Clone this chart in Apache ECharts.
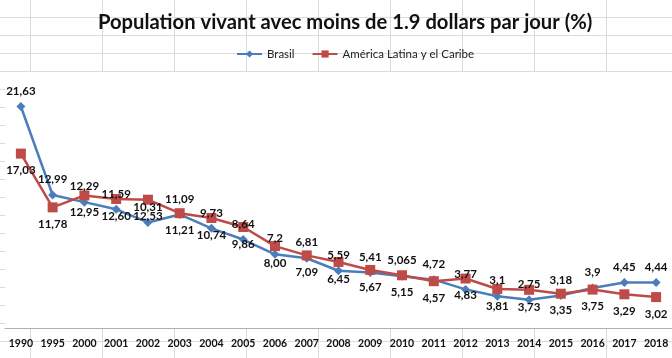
<!DOCTYPE html>
<html>
<head>
<meta charset="utf-8">
<script src="https://cdn.jsdelivr.net/npm/echarts@6/dist/echarts.min.js"></script>
<style>
html,body{margin:0;padding:0;}
body{
  width:672px;height:358px;background-color:#fff;
  background-image:linear-gradient(to right,#dcdcdc 1px,transparent 1px),linear-gradient(to bottom,#dcdcdc 1px,transparent 1px);
  background-size:72px 18px;background-position:30px 17px;
}
#chart{width:672px;height:358px;}
</style>
</head>
<body>
<div id="chart"></div>
<script>
const years = ['1990','1995','2000','2001','2002','2003','2004','2005','2006','2007','2008','2009','2010','2011','2012','2013','2014','2015','2016','2017','2018'];
const brasilLabels = ['21,63','12,99','12,29','11,59','10,31','11,09','9,73','8,64','7,2','6,81','5,59','5,41','5,065','4,72','3,77','3,1','2,75','3,18','3,9','4,45','4,44'];
const latamLabels = ['17,03','11,78','12,95','12,60','12,53','11,21','10,74','9,86','8,00','7,09','6,45','5,67','5,15','4,57','4,83','3,81','3,73','3,35','3,75','3,29','3,02'];
const brasil = [21.63,12.99,12.29,11.59,10.31,11.09,9.73,8.64,7.2,6.81,5.59,5.41,5.065,4.72,3.77,3.1,2.75,3.18,3.9,4.45,4.44];
const latam = [17.03,11.78,12.95,12.60,12.53,11.21,10.74,9.86,8.00,7.09,6.45,5.67,5.15,4.57,4.83,3.81,3.73,3.35,3.75,3.29,3.02];

const chart = echarts.init(document.getElementById('chart'));
const labelFont = {fontFamily:'Lato',fontWeight:'bold',fontSize:11.5,color:'#111'};
chart.setOption({
  backgroundColor:'transparent',
  animation:false,
  title:{
    text:'Population vivant avec moins de 1.9 dollars par jour (%)',
    left:93, top:7,
    textStyle:{fontFamily:'Lato',fontWeight:'bold',fontSize:20.2,color:'#111'}
  },
  legend:{
    left:231, top:43,
    itemWidth:25, itemHeight:9, itemGap:17,
    textStyle:{fontFamily:'Lato',fontSize:11.5,color:'#222'},
    data:['Brasil','América Latina y el Caribe']
  },
  grid:{left:5,right:0,top:72,bottom:30,show:true,backgroundColor:'#fff',borderWidth:0},
  xAxis:{
    type:'category',data:years,boundaryGap:true,
    axisLine:{lineStyle:{color:'#b0b0b0',width:1}},
    axisTick:{show:false},
    axisLabel:{interval:0,margin:10,fontFamily:'Lato',fontWeight:'bold',fontSize:10.5,color:'#111'}
  },
  yAxis:{type:'value',min:0,max:25,show:false,splitLine:{show:false}},
  series:[
    {
      name:'Brasil',type:'line',data:brasil,
      symbol:'diamond',symbolSize:9,
      lineStyle:{color:'#4A7EBB',width:2.5},
      itemStyle:{color:'#4A7EBB'},
      label:{show:true,position:'top',distance:5,formatter:p=>brasilLabels[p.dataIndex],...labelFont}
    },
    {
      name:'América Latina y el Caribe',type:'line',data:latam,
      symbol:'rect',symbolSize:10,
      lineStyle:{color:'#BE4B48',width:2.5},
      itemStyle:{color:'#BE4B48'},
      label:{show:true,position:'bottom',distance:6,formatter:p=>latamLabels[p.dataIndex],...labelFont}
    }
  ]
});
</script>
</body>
</html>
